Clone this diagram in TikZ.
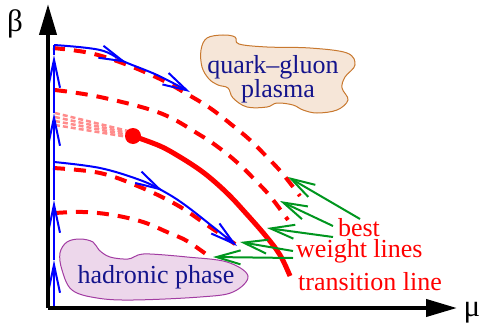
\documentclass[tikz,border=0pt]{standalone}
\usepackage{fontspec}
\setmainfont{Liberation Serif}
\usetikzlibrary{arrows.meta,decorations.markings}
\definecolor{navy}{HTML}{14148C}
\definecolor{qgpfill}{HTML}{F6E6D8}
\definecolor{qgpdraw}{HTML}{C8782E}
\definecolor{hadfill}{HTML}{EDD7EB}
\definecolor{haddraw}{HTML}{A23CA2}
\definecolor{pinkish}{HTML}{FF8C8C}
\definecolor{grn}{HTML}{00961E}
\tikzset{
  axisline/.style={line width=4pt, black, -{Triangle[length=31pt,width=17pt]}},
  reddash/.style={red, line width=4pt, dash pattern=on 12pt off 9pt},
  translinestyle/.style={red, line width=5pt},
  pinkdash/.style={pinkish, line width=2.5pt, dash pattern=on 5pt off 3pt},
  blueline/.style={blue, line width=2pt},
  bluetip/.style={-{Straight Barb[length=24pt,width=13pt]}},
  greenarrow/.style={grn, line width=2pt, -{Straight Barb[length=24pt,width=14pt]}},
  bigtext/.style={font=\fontspec{Liberation Serif}\fontsize{26}{26}\selectfont},
  blobtext/.style={bigtext, text=navy, inner sep=0pt, anchor=base},
  redtext/.style={bigtext, text=red, inner sep=0pt},
  greektext/.style={font=\fontspec{Liberation Serif}\fontsize{31}{31}\selectfont, anchor=base, inner sep=0pt},
  midarrow/.style={postaction={decorate}, decoration={markings, mark=at position #1 with {\arrow{Straight Barb[length=24pt,width=13pt]}}}}
}
\begin{document}
\begin{tikzpicture}[x=1pt,y=-1pt]
\useasboundingbox (0,0) rectangle (486,329);

% blobs
\draw[qgpdraw, fill=qgpfill, line width=1pt] plot[smooth cycle, tension=0.6] coordinates {
 (201,50) (207,38) (223,35) (235,37) (239,44) (267,47) (310,48) (347,53) (355,65)
 (345,77) (342,88) (348,100) (337,110) (317,113) (303,110) (293,105) (277,103)
 (267,107) (247,107) (233,98) (228,88) (218,85) (209,79) (202,67)};
\draw[haddraw, fill=hadfill, line width=1pt] plot[smooth cycle, tension=0.6] coordinates {
 (60,253) (67,242) (80,239) (93,242) (99,250) (110,257) (128,259) (138,255)
 (150,254) (187,257) (227,262) (248,276) (233,292) (200,297) (133,300) (97,298)
 (72,290) (62,270)};

% dashed weight lines
\draw[reddash] plot[smooth, tension=0.6] coordinates {(53,48) (90,53) (125,64) (160,79) (187,94) (210,108) (232,125) (250,140) (267,157) (282,173) (300,196)};
\draw[reddash] plot[smooth, tension=0.6] coordinates {(55,90) (100,97) (160,113) (200,135) (222,150) (240,165) (256,181) (270,196) (288,220)};
\draw[reddash] plot[smooth, tension=0.6] coordinates {(53,168) (100,173) (140,187) (177,205) (207,225) (238,246)};
\draw[reddash] plot[smooth, tension=0.6] coordinates {(55,213) (83,212) (113,215) (143,222) (167,232) (187,241) (210,257)};

% faded band
\foreach \a/\b in {113/131,117/133,121/135,125/137}
  \draw[pinkdash] (55,\a) -- (128,\b);

% transition line
\node[circle, fill=red, minimum size=16pt, inner sep=0pt] (cp) at (133,136) {};
\draw[translinestyle] plot[smooth, tension=0.6] coordinates {(133,136) (160,146) (180,157) (200,170) (215,182) (230,196) (243,210) (265,235) (280,255) (290,276)};

% blue flows
\draw[blueline, bluetip, midarrow=0.52] plot[smooth, tension=0.6] coordinates {(54,45) (100,50) (125,62) (157,75) (190,92)};
\draw[blueline, bluetip, midarrow=0.55] plot[smooth, tension=0.6] coordinates {(54,162) (100,168) (140,180) (163,191) (185,205) (217,230) (237,246)};
\coordinate (v0) at (54,308);
\coordinate (v1) at (54,260);
\coordinate (v2) at (54,200);
\coordinate (v3) at (54,113);
\coordinate (v4) at (54,55);
\coordinate (v5) at (54,45);
\draw[blueline, -{Straight Barb[length=28pt,width=12pt]}] (v0) -- (v1);
\draw[blueline, -{Straight Barb[length=28pt,width=12pt]}] (v1) -- (v2);
\draw[blueline, -{Straight Barb[length=28pt,width=12pt]}] (v2) -- (v3);
\draw[blueline, -{Straight Barb[length=28pt,width=12pt]}] (v3) -- (v4);
\draw[blueline] (v4) -- (v5);

% axes
\coordinate (o) at (48,308);
\coordinate (ytop) at (48,4);
\coordinate (xend) at (457,308);
\draw[axisline] (o) -- (ytop);
\draw[axisline] (o) -- (xend);
\node[greektext] (beta) at (15,31) {β};
\node[greektext] (mu) at (472,316) {μ};

% blob labels
\node[blobtext] (qg1) at (273,73) {quark–gluon};
\node[blobtext] (qg2) at (278,97) {plasma};
\node[blobtext] (had) at (156,283) {hadronic phase};

% red labels
\node[redtext, anchor=base] (best) at (359,236) {best};
\node[redtext, anchor=base west] (wl) at (296,257) {weight lines};
\node[redtext, anchor=base west] (tl) at (298,290) {transition line};

% green arrows
\coordinate (t1) at (360,219); \coordinate (h1) at (288,177);
\coordinate (t2) at (333,226); \coordinate (h2) at (280,201);
\coordinate (t3) at (333,237); \coordinate (h3) at (267,228);
\coordinate (t4) at (293,251); \coordinate (h4) at (240,242);
\coordinate (t5) at (293,258); \coordinate (h5) at (213,257);
\draw[greenarrow] (t1) -- (h1);
\draw[greenarrow] (t2) -- (h2);
\draw[greenarrow] (t3) -- (h3);
\draw[greenarrow] (t4) -- (h4);
\draw[greenarrow] (t5) -- (h5);
\end{tikzpicture}
\end{document}
